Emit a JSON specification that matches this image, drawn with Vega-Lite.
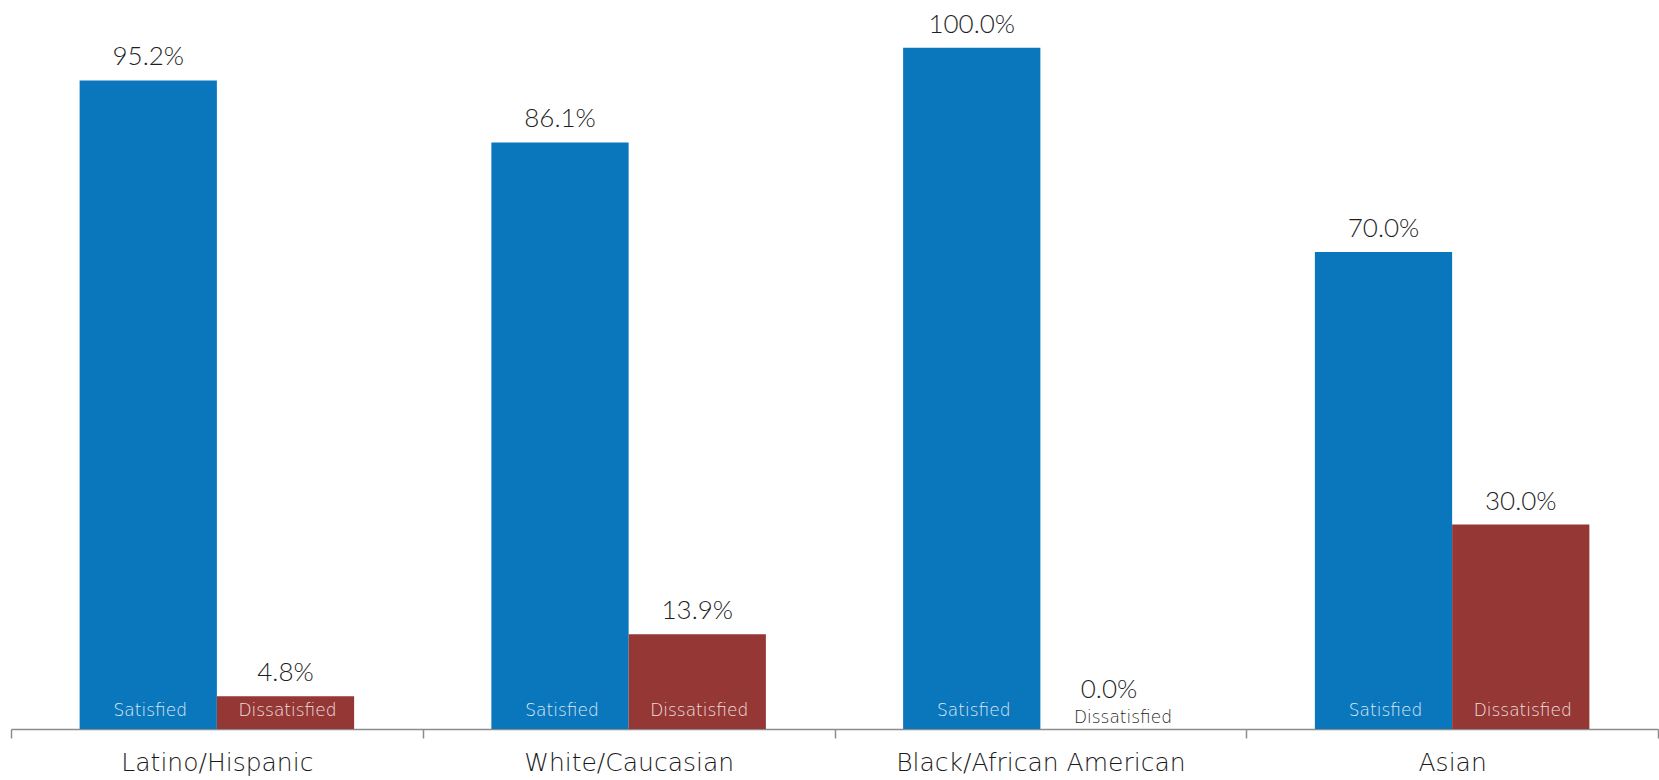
{
  "$schema": "https://vega.github.io/schema/vega-lite/v6.json",
  "width": 1647,
  "height": 729,
  "autosize": {"type": "none"},
  "padding": {"left": 11, "top": 0, "right": 1, "bottom": 51},
  "background": "white",
  "config": {"view": {"stroke": null}, "font": "Lato"},
  "data": {
    "values": [
      {"group": "Latino/Hispanic", "status": "Satisfied", "value": 0.952},
      {"group": "Latino/Hispanic", "status": "Dissatisfied", "value": 0.048},
      {"group": "White/Caucasian", "status": "Satisfied", "value": 0.861},
      {"group": "White/Caucasian", "status": "Dissatisfied", "value": 0.139},
      {"group": "Black/African American", "status": "Satisfied", "value": 1.0},
      {"group": "Black/African American", "status": "Dissatisfied", "value": 0.0},
      {"group": "Asian", "status": "Satisfied", "value": 0.7},
      {"group": "Asian", "status": "Dissatisfied", "value": 0.3}
    ]
  },
  "encoding": {
    "x": {
      "field": "group",
      "type": "nominal",
      "sort": ["Latino/Hispanic", "White/Caucasian", "Black/African American", "Asian"],
      "scale": {"paddingInner": 0, "paddingOuter": 0},
      "axis": {
        "title": null,
        "labelAngle": 0,
        "labelFontSize": 25,
        "labelFontWeight": 200,
        "labelLimit": 0,
        "labelColor": "#1a1a1a",
        "labelFont": "DejaVu Sans",
        "labelPadding": 12,
        "domainColor": "#8c8c8c",
        "domainWidth": 1.5,
        "tickColor": "#8c8c8c",
        "tickWidth": 1.5,
        "tickSize": 9,
        "tickBand": "extent"
      }
    },
    "xOffset": {
      "field": "status",
      "type": "nominal",
      "sort": ["Satisfied", "Dissatisfied"],
      "scale": {"paddingInner": 0, "paddingOuter": 0.5}
    },
    "y": {
      "field": "value",
      "type": "quantitative",
      "scale": {"domain": [0, 1.07]},
      "axis": null
    }
  },
  "layer": [
    {
      "mark": {"type": "bar"},
      "encoding": {
        "color": {
          "field": "status",
          "type": "nominal",
          "scale": {"domain": ["Satisfied", "Dissatisfied"], "range": ["#0a77bd", "#953735"]},
          "legend": null
        }
      }
    },
    {
      "transform": [{"filter": "datum.value > 0"}],
      "mark": {"type": "text", "baseline": "alphabetic", "dy": -15, "fontSize": 26, "fontWeight": 300, "color": "#1f1f1f"},
      "encoding": {"text": {"field": "value", "type": "quantitative", "format": ".1%"}}
    },
    {
      "transform": [{"filter": "datum.value == 0"}],
      "mark": {"type": "text", "baseline": "alphabetic", "dy": -31, "fontSize": 26, "fontWeight": 300, "color": "#1f1f1f"},
      "encoding": {"text": {"field": "value", "type": "quantitative", "format": ".1%"}}
    },
    {
      "transform": [{"filter": "datum.value > 0"}],
      "mark": {"type": "text", "baseline": "alphabetic", "dy": -13, "dx": 2, "font": "DejaVu Sans", "fontSize": 17, "fontWeight": 200, "color": "white", "opacity": 0.85},
      "encoding": {"y": {"datum": 0}, "text": {"field": "status", "type": "nominal"}}
    },
    {
      "transform": [{"filter": "datum.value == 0"}],
      "mark": {"type": "text", "baseline": "alphabetic", "dy": -6, "dx": 14, "font": "DejaVu Sans", "fontSize": 17, "fontWeight": 200, "color": "#262626"},
      "encoding": {"y": {"datum": 0}, "text": {"field": "status", "type": "nominal"}}
    }
  ]
}
